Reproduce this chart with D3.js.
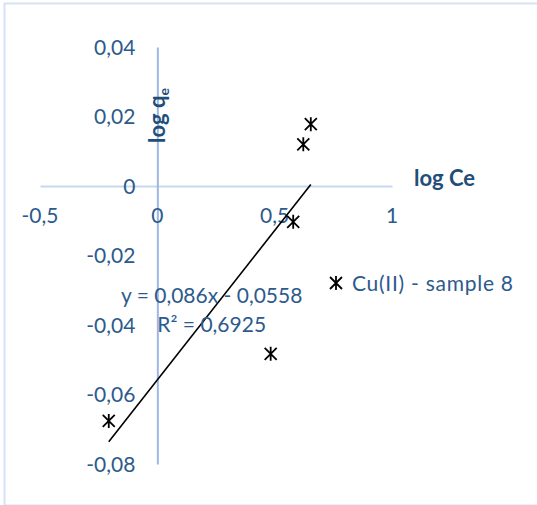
<!DOCTYPE html>
<html>
<head>
<meta charset="utf-8">
<script src="https://cdn.jsdelivr.net/npm/d3@7"></script>
<style>
  html, body { margin: 0; padding: 0; background: #fff; }
  svg { display: block; font-family: Lato, "Open Sans", sans-serif; }
  .tick-label { fill: #2d5a8c; font-size: 21px; }
  .axis-title { fill: #1f4e79; font-size: 22px; font-weight: bold; }
  .note { fill: #2d5a8c; font-size: 21px; }
</style>
</head>
<body>
<svg id="chart"></svg>
<script>
// values
const logCe = [-0.207, 0.483, 0.579, 0.622, 0.654];
const logQe = [-0.0676, -0.0483, -0.0103, 0.012, 0.0178];
const trendSlope = 0.086;
const trendIntercept = -0.0558;
const xTicks = [-0.5, 0, 0.5, 1];
const yTicks = [-0.08, -0.06, -0.04, -0.02, 0, 0.02, 0.04];
const seriesName = "Cu(II) - sample 8";
const equationText = "y = 0,086x - 0,0558";
const r2Text = "R² = 0,6925";

const config = {
    width: 537,
    height: 505,
    margin: { top: 47, right: 145, bottom: 41, left: 40 },
};

const locale = d3.formatLocale({ decimal: ",", thousands: " ", grouping: [3], currency: ["", ""], minus: "-" });
const fmt = locale.format("~g");

const points = logCe.map((x, i) => ({ x, y: logQe[i] }));

const svg = d3.select("#chart")
    .attr("width", config.width)
    .attr("height", config.height);

// outer frame
svg.append("rect")
    .attr("x", 4.5)
    .attr("y", 3.5)
    .attr("width", config.width + 10)
    .attr("height", config.height - 3)
    .attr("fill", "none")
    .attr("stroke", "#d7e3f3")
    .attr("stroke-width", 2);

const xScale = d3.scaleLinear()
    .domain([-0.5, 1])
    .range([config.margin.left, config.width - config.margin.right]);

const yScale = d3.scaleLinear()
    .domain([-0.08, 0.04])
    .range([config.height - config.margin.bottom, config.margin.top]);

// axes cross at the origin
const xAxis = d3.axisBottom(xScale).tickValues(xTicks).tickSize(0).tickFormat("");
const yAxis = d3.axisLeft(yScale).tickValues(yTicks).tickSize(0).tickFormat("");

svg.append("g")
    .attr("transform", `translate(0, ${yScale(0)})`)
    .call(xAxis)
    .call(g => g.select(".domain").attr("stroke", "#c8d8ef").attr("stroke-width", 2));

svg.append("g")
    .attr("transform", `translate(${xScale(0)}, 0)`)
    .call(yAxis)
    .call(g => g.select(".domain").attr("stroke", "#9db8e2").attr("stroke-width", 2));

// tick labels, placed like the original
svg.selectAll(".x-label")
    .data(xTicks)
    .join("text")
    .attr("class", "tick-label x-label")
    .attr("x", d => xScale(d))
    .attr("y", yScale(0) + 37)
    .attr("text-anchor", "middle")
    .text(d => fmt(d));

svg.selectAll(".y-label")
    .data(yTicks)
    .join("text")
    .attr("class", "tick-label y-label")
    .attr("x", xScale(0) - 22)
    .attr("y", d => yScale(d))
    .attr("dy", "0.36em")
    .attr("text-anchor", "end")
    .text(d => fmt(d));

// axis titles
svg.append("text")
    .attr("class", "axis-title")
    .attr("x", 414)
    .attr("y", 186)
    .text("log Ce");

const yTitle = svg.append("text")
    .attr("class", "axis-title")
    .attr("transform", `translate(165, 143) rotate(-90)`);
yTitle.append("tspan").text("log q");
yTitle.append("tspan")
    .attr("font-size", "14px")
    .attr("dy", "4")
    .text("e");

// trend line
const xExtent = d3.extent(logCe);
const line = d3.line()
    .x(d => xScale(d))
    .y(d => yScale(trendSlope * d + trendIntercept));

svg.append("path")
    .datum(xExtent)
    .attr("d", line)
    .attr("fill", "none")
    .attr("stroke", "#000")
    .attr("stroke-width", 1.6);

// star markers
const star = "M0,-7V7M-6,-6L6,6M-6,6L6,-6";

svg.selectAll(".marker")
    .data(points)
    .join("path")
    .attr("class", "marker")
    .attr("transform", d => `translate(${xScale(d.x)}, ${yScale(d.y)})`)
    .attr("d", star)
    .attr("fill", "none")
    .attr("stroke", "#000")
    .attr("stroke-width", 1.8);

// equation
svg.append("text")
    .attr("class", "note")
    .attr("x", 211.7)
    .attr("y", 303)
    .attr("text-anchor", "middle")
    .text(equationText);

svg.append("text")
    .attr("class", "note")
    .attr("x", 211.7)
    .attr("y", 332)
    .attr("text-anchor", "middle")
    .text(r2Text);

// legend
svg.append("path")
    .attr("transform", "translate(336, 283)")
    .attr("d", star)
    .attr("fill", "none")
    .attr("stroke", "#000")
    .attr("stroke-width", 1.8);

svg.append("text")
    .attr("class", "note")
    .attr("x", 352)
    .attr("y", 291)
    .attr("textLength", 161)
    .text(seriesName);
</script>
</body>
</html>
